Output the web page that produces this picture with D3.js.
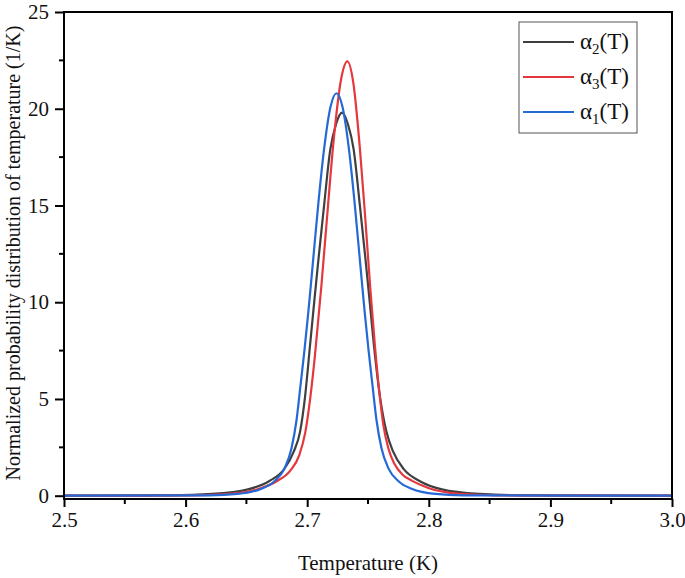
<!DOCTYPE html>
<html>
<head>
<meta charset="utf-8">
<script src="https://cdn.jsdelivr.net/npm/d3@7"></script>
<style>
  body { margin: 0; background: #fff; }
</style>
</head>
<body>
<div id="chart"></div>
<script>
// Tick values
const xTicks = [2.5, 2.6, 2.7, 2.8, 2.9, 3.0]
const xMinorTicks = [2.55, 2.65, 2.75, 2.85, 2.95]
const yTicks = [0, 5, 10, 15, 20, 25]
const yMinorTicks = [2.5, 7.5, 12.5, 17.5, 22.5]

// alpha_2(T) - black
const alpha2T = [2.5, 2.5871, 2.6217, 2.6513, 2.6686, 2.6809, 2.6891, 2.6941, 2.6982, 2.7023,
  2.7056, 2.7089, 2.7138, 2.7190, 2.7237, 2.7286, 2.7335, 2.7382, 2.7434, 2.7483, 2.7516,
  2.7549, 2.7599, 2.7652, 2.7705, 2.7796, 2.7927, 2.8108, 2.8421, 2.8766, 3.0]
const alpha2P = [0, 0.02, 0.09, 0.33, 0.75, 1.36, 2.3, 3.3, 5.1, 7.75,
  9.9, 12.0, 14.95, 17.9, 19.2, 19.8, 19.2, 17.9, 14.95, 12.0, 9.9,
  7.75, 5.1, 3.3, 2.3, 1.36, 0.75, 0.33, 0.09, 0.02, 0]

// alpha_3(T) - red
const alpha3T = [2.5, 2.6055, 2.6360, 2.6615, 2.6749, 2.6861, 2.6935, 2.6985, 2.7026, 2.7063,
  2.7116, 2.7166, 2.7215, 2.7281, 2.7330, 2.7379, 2.7434, 2.7478, 2.7519, 2.7558,
  2.7593, 2.7626, 2.7667, 2.7717, 2.7782, 2.7860, 2.7996, 2.8251, 2.8555, 3.0]
const alpha3P = [0, 0.02, 0.09, 0.38, 0.75, 1.3, 2.1, 3.3, 5.1, 7.2,
  10.8, 14.6, 18.2, 21.6, 22.45, 21.35, 17.9, 14.3, 10.7, 7.67,
  5.36, 3.66, 2.45, 1.65, 1.1, 0.78, 0.4, 0.1, 0.02, 0]

// alpha_1(T) - blue
const alpha1T = [2.5, 2.6197, 2.6427, 2.6624, 2.6731, 2.6813, 2.6871, 2.6912, 2.6945, 2.6978,
  2.7011, 2.7044, 2.7093, 2.7138, 2.7192, 2.7241, 2.7290, 2.7344, 2.7389, 2.7438, 2.7471,
  2.7504, 2.7537, 2.7570, 2.7611, 2.7669, 2.7751, 2.7858, 2.8055, 2.8285, 3.0]
const alpha1P = [0, 0.02, 0.09, 0.36, 0.75, 1.4, 2.45, 3.9, 5.7, 7.55,
  9.6, 11.85, 15.2, 17.87, 20.1, 20.8, 20.1, 17.87, 15.2, 11.85, 9.6,
  7.55, 5.7, 3.9, 2.45, 1.4, 0.75, 0.36, 0.09, 0.02, 0]

const series = [
  { sub: "2", t: alpha2T, p: alpha2P, color: "#3f3f3f" },
  { sub: "3", t: alpha3T, p: alpha3P, color: "#e4383e" },
  { sub: "1", t: alpha1T, p: alpha1P, color: "#2469d6" }
]

const serif = "'Liberation Serif', 'Times New Roman', serif"
const W = 685, H = 578
const plot = { left: 64, right: 672, top: 12, bottom: 499 }

const svg = d3.select("#chart").append("svg")
  .attr("width", W)
  .attr("height", H)

const x = d3.scaleLinear().domain([2.5, 3.0]).range([plot.left, plot.right])
const y = d3.scaleLinear().domain([-0.17, 25]).range([plot.bottom, plot.top])

// curves
const line = d3.line()
  .x(d => x(d[0]))
  .y(d => y(d[1]))
  .curve(d3.curveMonotoneX)

svg.append("g").selectAll("path")
  .data(series)
  .join("path")
  .attr("d", s => line(s.t.map((t, i) => [t, s.p[i]])))
  .attr("fill", "none")
  .attr("stroke", s => s.color)
  .attr("stroke-width", 2.2)

// frame
svg.append("rect")
  .attr("x", plot.left).attr("y", plot.top)
  .attr("width", plot.right - plot.left).attr("height", plot.bottom - plot.top)
  .attr("fill", "none")
  .attr("stroke", "#000")
  .attr("stroke-width", 2)

// x axis
const xAxis = svg.append("g").attr("transform", "translate(0," + plot.bottom + ")")
xAxis.call(d3.axisBottom(x).tickValues(xTicks).tickSize(8).tickFormat(d3.format(".1f")))
xAxis.append("g").selectAll("line")
  .data(xMinorTicks)
  .join("line")
  .attr("x1", d => x(d)).attr("x2", d => x(d))
  .attr("y1", 0).attr("y2", 5)
  .attr("stroke", "#000").attr("stroke-width", 2)

// y axis
const yAxis = svg.append("g").attr("transform", "translate(" + plot.left + ",0)")
yAxis.call(d3.axisLeft(y).tickValues(yTicks).tickSize(9))
yAxis.append("g").selectAll("line")
  .data(yMinorTicks)
  .join("line")
  .attr("y1", d => y(d)).attr("y2", d => y(d))
  .attr("x1", 0).attr("x2", -5)
  .attr("stroke", "#000").attr("stroke-width", 2)

svg.selectAll(".domain").remove()
svg.selectAll(".tick line").attr("stroke", "#000").attr("stroke-width", 2)
svg.selectAll(".tick text")
  .style("font-family", serif)
  .style("font-size", "21px")
  .attr("fill", "#111")
xAxis.selectAll(".tick text").attr("y", 13)
yAxis.selectAll(".tick text").attr("x", -15)

// axis titles
svg.append("text")
  .attr("x", (plot.left + plot.right) / 2)
  .attr("y", 570)
  .attr("text-anchor", "middle")
  .style("font-family", serif)
  .style("font-size", "21px")
  .attr("fill", "#111")
  .text("Temperature (K)")

svg.append("text")
  .attr("transform", "translate(20,253) rotate(-90)")
  .attr("text-anchor", "middle")
  .style("font-family", serif)
  .style("font-size", "20px")
  .attr("fill", "#111")
  .text("Normalized probability distribution of temperature (1/K)")

// legend
const legend = svg.append("g")
legend.append("rect")
  .attr("x", 519).attr("y", 22)
  .attr("width", 118).attr("height", 111)
  .attr("fill", "#fff")
  .attr("stroke", "#555")
  .attr("stroke-width", 1)

const rows = legend.selectAll("g.row")
  .data(series)
  .join("g")
  .attr("class", "row")
  .attr("transform", (d, i) => "translate(0," + (42 + i * 35) + ")")

rows.append("line")
  .attr("x1", 523).attr("x2", 574)
  .attr("stroke", d => d.color)
  .attr("stroke-width", 2)

const label = rows.append("text")
  .attr("x", 580)
  .attr("y", 7)
  .style("font-family", serif)
  .style("font-size", "23px")
  .attr("fill", "#111")
label.append("tspan").text("\u03b1")
label.append("tspan").attr("dy", 5).style("font-size", "15px").text(d => d.sub)
label.append("tspan").attr("dy", -5).text("(T)")
</script>
</body>
</html>
